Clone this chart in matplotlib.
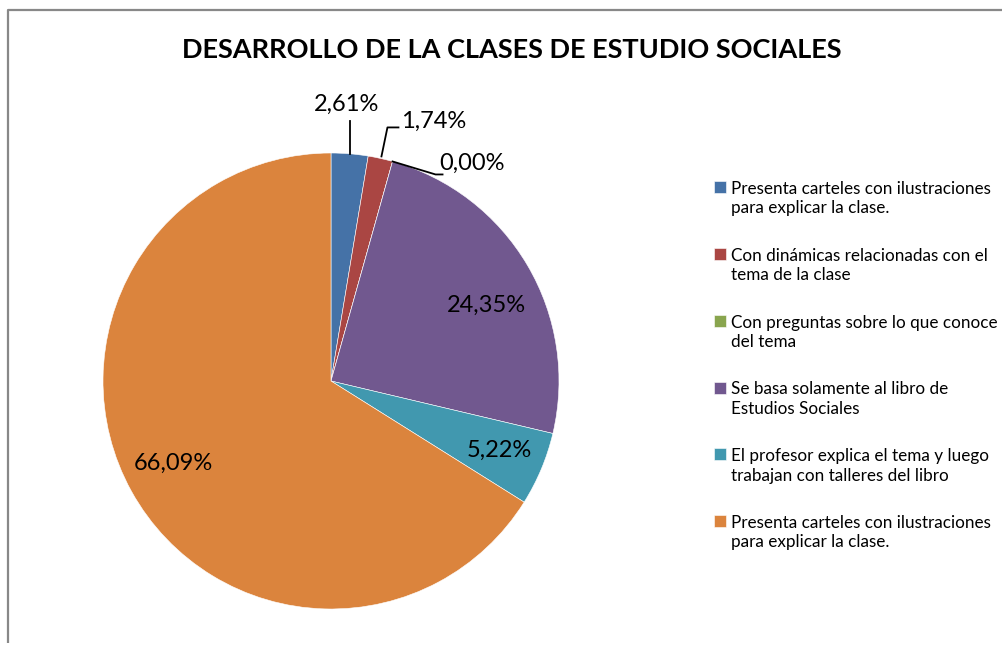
import numpy as np
import matplotlib.pyplot as plt
from matplotlib.patches import Rectangle
from matplotlib.legend_handler import HandlerPatch

plt.rcParams['font.family'] = ['Lato', 'DejaVu Sans']

# Data
categories = [
    "Presenta carteles con ilustraciones\npara explicar la clase.",
    "Con dinámicas relacionadas con el\ntema de la clase",
    "Con preguntas sobre lo que conoce\ndel tema",
    "Se basa solamente al libro de\nEstudios Sociales",
    "El profesor explica el tema y luego\ntrabajan con talleres del libro",
    "Presenta carteles con ilustraciones\npara explicar la clase.",
]
values = [2.61, 1.74, 0.00, 24.35, 5.22, 66.09]
colors = ['#4572A7', '#AA4643', '#89A54E', '#71588F', '#4198AF', '#DB843D']
title = "DESARROLLO DE LA CLASES DE ESTUDIO SOCIALES"

W, H = 1003, 645
fig = plt.figure(figsize=(W / 100, H / 100), dpi=100)
ax = fig.add_axes([0, 0, 1, 1])

# pie geometry in pixel units (y up)
cx, cy, R = 331, H - 381, 228
wedges, _ = ax.pie(values, colors=colors, startangle=90, counterclock=False,
                   center=(cx, cy), radius=R,
                   wedgeprops=dict(edgecolor='white', linewidth=0.4))
ax.set_xlim(0, W)
ax.set_ylim(0, H)
ax.set_aspect('equal')
ax.axis('off')

# chart frame (left and top edges visible)
ax.plot([8.5, 8.5, W], [2, H - 10, H - 10], color='#888888', lw=1.6,
        solid_capstyle='butt')

labels = [f"{v:.2f}%".replace('.', ',') for v in values]
fs = 17

# inside labels: index -> (radial fraction, angle tweak in degrees)
inside = {3: (0.757, -4.4), 4: (0.80, 0.4), 5: (0.78, -1.4)}
for i, (rf, dth) in inside.items():
    w = wedges[i]
    th = np.radians((w.theta1 + w.theta2) / 2 + dth)
    ax.text(cx + rf * R * np.cos(th), cy + rf * R * np.sin(th), labels[i],
            ha='center', va='center', fontsize=fs, color='black')


def edge_pt(i):
    w = wedges[i]
    th = np.radians((w.theta1 + w.theta2) / 2)
    return cx + R * np.cos(th), cy + R * np.sin(th)


# outside labels with leader lines
x0, y0 = edge_pt(0)
ax.plot([x0, x0], [y0, y0 + 33], color='black', lw=1.3)
ax.text(x0 - 3, y0 + 49, labels[0], ha='center', va='center', fontsize=fs)

x0, y0 = edge_pt(1)
ax.plot([x0 + 1, x0 + 7, x0 + 18], [y0 + 2, y0 + 31, y0 + 31], color='black', lw=1.3)
ax.text(x0 + 21, y0 + 37, labels[1], ha='left', va='center', fontsize=fs)

x0, y0 = edge_pt(2)
ax.plot([x0, x0 + 43, x0 + 50], [y0, y0 - 13, y0 - 13], color='black', lw=1.3)
ax.text(x0 + 47, y0 - 2, labels[2], ha='left', va='center', fontsize=fs)

# title
ax.text(512, H - 50, title, ha='center', va='center', fontsize=19.5,
        fontweight='bold', color='black')


# legend squares aligned with the first text line
def top_square(legend, orig_handle, xdescent, ydescent, width, height, fontsize):
    return Rectangle((-xdescent, -ydescent + 0.7 * fontsize), width, height)


leg = ax.legend(wedges, categories, loc='upper left',
                bbox_to_anchor=(707 / W, 1 - 174 / H), frameon=False,
                fontsize=12.3, handlelength=0.7, handleheight=0.7,
                handletextpad=0.3, labelspacing=1.85, borderaxespad=0,
                handler_map={w: HandlerPatch(patch_func=top_square) for w in wedges})
for t in leg.get_texts():
    t.set_linespacing(1.25)

fig.savefig('out.png', dpi=100)
